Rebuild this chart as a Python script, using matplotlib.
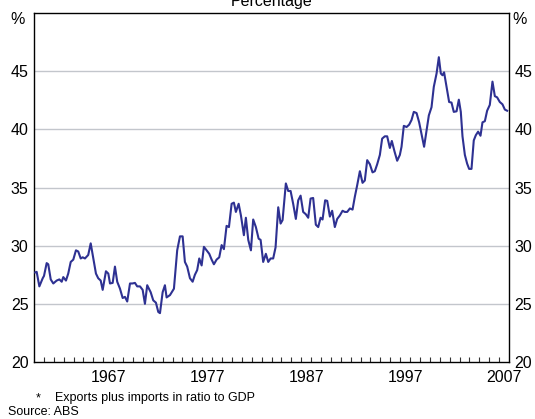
import numpy as np
import matplotlib.pyplot as plt
from matplotlib.ticker import FixedLocator, NullFormatter

plt.rcParams['font.family'] = ['Liberation Sans', 'DejaVu Sans']

# ---- DATA ----
years = [
    1960.12, 1960.27, 1960.54, 1960.88, 1961.01, 1961.28, 1961.44, 1961.69, 1961.95,
    1962.29, 1962.56, 1962.80, 1962.96, 1963.23, 1963.46, 1963.71, 1963.97,
    1964.24, 1964.47, 1964.72, 1964.92, 1965.15, 1965.48, 1965.73, 1965.99,
    1966.26, 1966.49, 1966.74, 1966.94, 1967.27, 1967.51, 1967.68, 1967.95,
    1968.18, 1968.41, 1968.69, 1968.96, 1969.19, 1969.42, 1969.70, 1969.95,
    1970.20, 1970.43, 1970.71, 1970.98, 1971.21, 1971.44, 1971.79, 1972.05,
    1972.32, 1972.56, 1972.73, 1973.00, 1973.23, 1973.40, 1973.74, 1974.14,
    1974.47, 1974.75, 1975.02, 1975.25, 1975.48, 1975.76, 1976.03, 1976.26,
    1976.49, 1976.70, 1976.94, 1977.17, 1977.44, 1977.71, 1977.95, 1978.18,
    1978.45, 1978.72, 1978.96, 1979.19, 1979.46, 1979.70, 1979.97, 1980.20,
    1980.40, 1980.68, 1980.91, 1981.21, 1981.41, 1981.65, 1981.92, 1982.15,
    1982.42, 1982.70, 1982.90, 1983.16, 1983.43, 1983.67, 1983.91, 1984.17,
    1984.41, 1984.68, 1984.92, 1985.12, 1985.45, 1985.69, 1985.93, 1986.19,
    1986.46, 1986.70, 1986.94, 1987.20, 1987.47, 1987.71, 1987.95, 1988.21,
    1988.48, 1988.72, 1988.96, 1989.16, 1989.42, 1989.63, 1989.90, 1990.13,
    1990.40, 1990.64, 1990.91, 1991.18, 1991.41, 1991.65, 1991.92, 1992.19,
    1992.42, 1992.66, 1992.93, 1993.20, 1993.43, 1993.67, 1993.94, 1994.21,
    1994.44, 1994.68, 1994.95, 1995.18, 1995.45, 1995.69, 1995.96, 1996.16,
    1996.43, 1996.70, 1996.97, 1997.14, 1997.37, 1997.65, 1997.91, 1998.15,
    1998.38, 1998.66, 1998.92, 1999.16, 1999.42, 1999.67, 1999.90, 2000.17,
    2000.40, 2000.68, 2000.91, 2001.11, 2001.28, 2001.44, 2001.69, 2001.95,
    2002.19, 2002.42, 2002.70, 2002.93, 2003.13, 2003.30, 2003.54, 2003.77,
    2003.97, 2004.21, 2004.44, 2004.65, 2004.88, 2005.12, 2005.32, 2005.56,
    2005.79, 2006.06, 2006.33, 2006.57, 2006.80, 2007.07, 2007.34, 2007.58,
    2007.81,
]
ratio = [
    27.7, 27.75, 26.5, 27.2, 27.4, 28.5, 28.4, 27.1, 26.75,
    27.0, 27.1, 26.9, 27.3, 27.0, 27.6, 28.6, 28.8,
    29.6, 29.5, 28.9, 29.0, 28.9, 29.2, 30.2, 28.9,
    27.6, 27.2, 27.0, 26.2, 27.8, 27.6, 26.75, 26.8,
    28.2, 26.9, 26.3, 25.5, 25.6, 25.2, 26.75, 26.75,
    26.8, 26.5, 26.5, 26.2, 25.0, 26.6, 26.0, 25.3,
    25.1, 24.3, 24.2, 26.0, 26.6, 25.55, 25.75, 26.3,
    29.6, 30.8, 30.8, 28.6, 28.2, 27.2, 26.9, 27.5,
    27.9, 28.9, 28.3, 29.9, 29.6, 29.3, 28.8, 28.4,
    28.8, 29.0, 30.05, 29.7, 31.7, 31.6, 33.6, 33.7,
    32.9, 33.6, 32.6, 30.9, 32.4, 30.5, 29.6, 32.25,
    31.6, 30.6, 30.5, 28.6, 29.3, 28.6, 28.9, 28.9,
    29.85, 33.3, 31.9, 32.2, 35.35, 34.7, 34.7, 33.6,
    32.3, 33.9, 34.3, 32.9, 32.7, 32.4, 34.05, 34.1,
    31.8, 31.6, 32.4, 32.25, 33.9, 33.85, 32.5, 33.0,
    31.6, 32.3, 32.6, 33.0, 32.9, 32.9, 33.2, 33.1,
    34.2, 35.2, 36.4, 35.4, 35.6, 37.35, 37.0, 36.3,
    36.4, 37.0, 37.8, 39.2, 39.4, 39.4, 38.4, 39.0,
    38.1, 37.3, 37.8, 38.5, 40.3, 40.2, 40.4, 40.8,
    41.5, 41.4, 40.6, 39.6, 38.5, 39.9, 41.2, 41.9,
    43.65, 44.8, 46.2, 44.8, 44.65, 44.9, 43.65, 42.35,
    42.3, 41.5, 41.55, 42.55, 41.5, 39.4, 37.8, 37.05,
    36.6, 36.6, 39.05, 39.5, 39.8, 39.45, 40.6, 40.7,
    41.6, 42.1, 44.1, 42.85, 42.75, 42.35, 42.15, 41.7,
    41.6,
]

y_ticks = [20, 25, 30, 35, 40, 45]
label_years = [1967, 1977, 1987, 1997, 2007]

# ---- PLOT ----
fig = plt.figure(figsize=(5.35, 4.19), dpi=100)
ax = fig.add_axes([34 / 535, 1 - 362 / 419, 475 / 535, 349 / 419])

for y in y_ticks[1:]:
    ax.axhline(y, color='#c3c6cc', lw=1.0, zorder=1)

ax.plot(years, ratio, color='#2e3192', lw=1.5, zorder=3)

ax.set_xlim(1960, 2008)
ax.set_ylim(20, 50)

ax.set_yticks(y_ticks)
ax.tick_params(axis='y', length=0, labelsize=11.5, pad=4,
               labelleft=True, labelright=True)

# year labels sit in the middle of each year, ticks mark the year boundaries
ax.xaxis.set_major_locator(FixedLocator([y + 0.5 for y in label_years]))
ax.set_xticklabels([str(y) for y in label_years])
ax.xaxis.set_minor_locator(FixedLocator(np.arange(1961, 2008)))
ax.xaxis.set_minor_formatter(NullFormatter())
ax.tick_params(axis='x', which='major', length=0, labelsize=11.5, pad=6)
ax.tick_params(axis='x', which='minor', direction='in', length=3.5,
               width=0.8, color='#333333')

for s in ax.spines.values():
    s.set_linewidth(1.0)
    s.set_color('black')

fig.text(18 / 535, 1 - 20 / 419, '%', ha='center', va='center', fontsize=11.5)
fig.text(520 / 535, 1 - 20 / 419, '%', ha='center', va='center', fontsize=11.5)
fig.text(0.508, 1 - 6 / 419, 'Percentage', ha='center', va='baseline', fontsize=11.5)

fig.text(36 / 535, 1 - 401 / 419, '*', ha='left', va='baseline', fontsize=9)
fig.text(55 / 535, 1 - 401 / 419, 'Exports plus imports in ratio to GDP',
         ha='left', va='baseline', fontsize=9)
fig.text(8 / 535, 1 - 415 / 419, 'Source: ABS', ha='left', va='baseline', fontsize=9)

fig.savefig('out.png', dpi=100)
